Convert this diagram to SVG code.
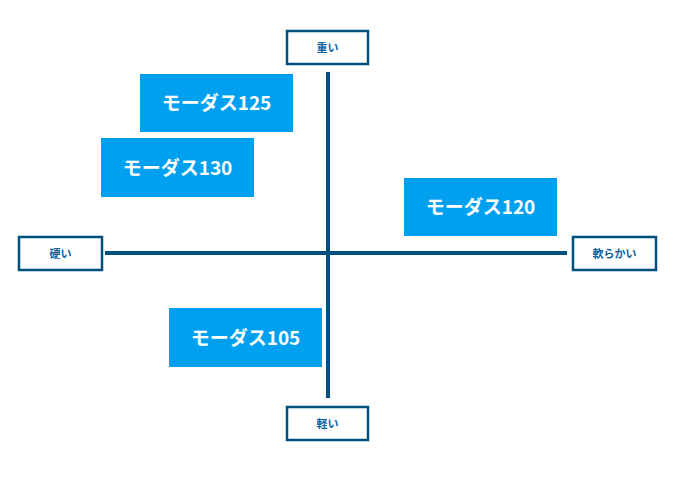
<svg xmlns="http://www.w3.org/2000/svg" width="673" height="478" viewBox="0 0 673 478">
<style>
.lab rect{fill:#fff;stroke:#00507f;stroke-width:2.5}
.lab text{fill:#0a63a0;font-family:"Noto Sans CJK JP",sans-serif;font-size:11px;font-weight:bold;text-anchor:middle}
.prod rect{fill:#00a0f0}
.prod text{fill:#fff;font-family:"Noto Sans CJK JP",sans-serif;font-size:19px;font-weight:bold;text-anchor:middle}
.ax line{stroke:#00507f;stroke-width:4}
</style>
<rect width="673" height="478" fill="#fff"/>
<g class="ax" id="connectors">
<line x1="328" y1="72" x2="328" y2="398"/>
<line x1="105" y1="253" x2="567" y2="253"/>
</g>
<g class="lab" id="heavy"><rect x="287" y="31" width="81" height="33"/><text x="327.5" y="52">重い</text></g>
<g class="lab" id="light"><rect x="287" y="407" width="81" height="33"/><text x="327.5" y="428">軽い</text></g>
<g class="lab" id="hard"><rect x="19" y="237" width="83" height="33"/><text x="60.5" y="258">硬い</text></g>
<g class="lab" id="soft"><rect x="573" y="237" width="83" height="33"/><text x="614.5" y="258">軟らかい</text></g>
<g class="prod" id="m125"><rect x="140" y="74" width="153" height="58"/><text x="216.5" y="110">モーダス125</text></g>
<g class="prod" id="m130"><rect x="101" y="138" width="153" height="59"/><text x="177.5" y="175">モーダス130</text></g>
<g class="prod" id="m120"><rect x="404" y="178" width="153" height="58"/><text x="480.5" y="214">モーダス120</text></g>
<g class="prod" id="m105"><rect x="169" y="308" width="153" height="59"/><text x="245.5" y="345">モーダス105</text></g>
</svg>
